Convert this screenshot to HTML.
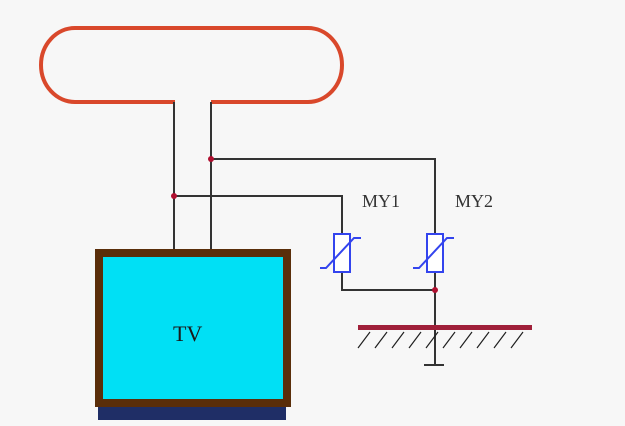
<!DOCTYPE html>
<html><head><style>body{margin:0;background:#f7f7f7}svg{display:block}</style></head>
<body>
<svg width="625" height="426" viewBox="0 0 625 426" xmlns="http://www.w3.org/2000/svg">
<rect width="625" height="426" fill="#f7f7f7"/>
<path d="M175 102 H75 A34 37 0 0 1 75 28 H308 A34 37 0 0 1 308 102 H211" fill="none" stroke="#d9482b" stroke-width="4"/>
<g stroke="#333" stroke-width="2" fill="none">
<line x1="174" y1="102" x2="174" y2="253"/>
<line x1="211" y1="102" x2="211" y2="253"/>
<polyline points="211,159 435,159 435,234"/>
<polyline points="174,196 342,196 342,234"/>
<polyline points="342,272 342,290 435,290"/>
<line x1="435" y1="272" x2="435" y2="365"/>
<line x1="424" y1="365" x2="444" y2="365"/>
</g>
<g stroke="#1e1e1e" stroke-width="1.2">
<line x1="370" y1="332" x2="358" y2="348"/><line x1="387" y1="332" x2="375" y2="348"/><line x1="404" y1="332" x2="392" y2="348"/><line x1="421" y1="332" x2="409" y2="348"/><line x1="438" y1="332" x2="426" y2="348"/><line x1="455" y1="332" x2="443" y2="348"/><line x1="472" y1="332" x2="460" y2="348"/><line x1="489" y1="332" x2="477" y2="348"/><line x1="506" y1="332" x2="494" y2="348"/><line x1="523" y1="332" x2="511" y2="348"/>
</g>
<rect x="358" y="325" width="174" height="5" fill="#a0203a"/>
<g stroke="#3344ee" stroke-width="2" fill="#fff">
<rect x="334" y="234" width="16" height="38"/>
<rect x="427" y="234" width="16" height="38"/>
</g>
<g stroke="#3344ee" stroke-width="2" fill="none">
<polyline points="320,268 326,268 354,238 361,238"/>
<polyline points="413,268 419,268 447,238 454,238"/>
</g>
<g fill="#b01030"><circle cx="211" cy="159" r="3"/><circle cx="174" cy="196" r="3"/><circle cx="435" cy="290" r="3"/></g>
<g font-family="Liberation Serif, serif" font-size="18" fill="#333">
<text x="362" y="207">MY1</text><text x="455" y="207">MY2</text>
</g>
<rect x="98" y="403" width="188" height="17" fill="#1f2e66"/>
<rect x="99" y="253" width="188" height="150" fill="#00e0f5" stroke="#5a2e0a" stroke-width="8"/>
<text x="173" y="341" font-family="Liberation Serif, serif" font-size="22" fill="#1a1a1a">TV</text>
</svg>
</body></html>
